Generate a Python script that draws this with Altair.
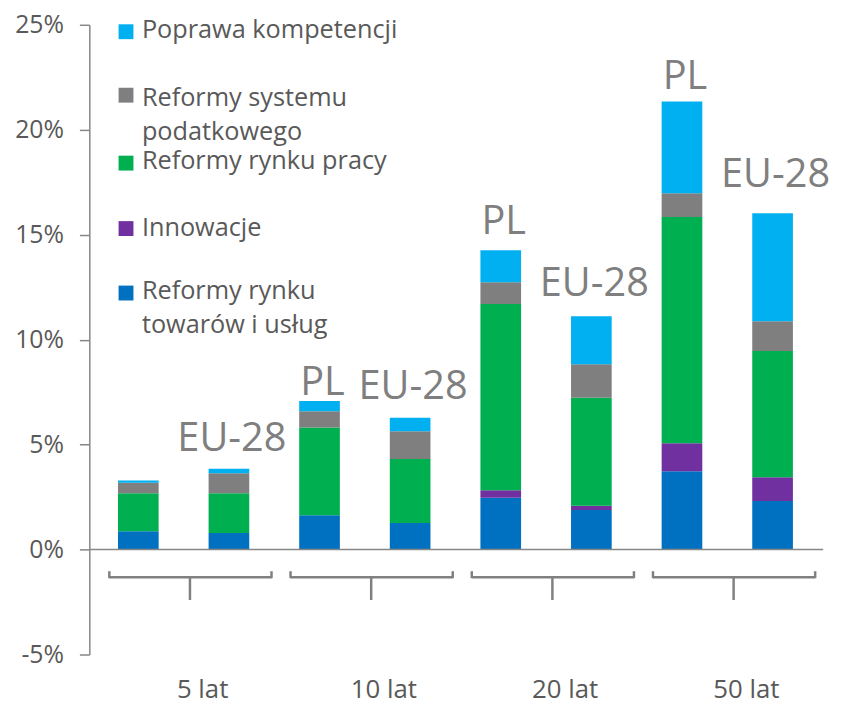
import altair as alt
import pandas as pd

# ---------------- data ----------------
bars = ["5 lat PL", "5 lat EU-28", "10 lat PL", "10 lat EU-28",
        "20 lat PL", "20 lat EU-28", "50 lat PL", "50 lat EU-28"]
bar_labels = ["", "EU-28", "PL", "EU-28", "PL", "EU-28", "PL", "EU-28"]
groups = ["5 lat", "10 lat", "20 lat", "50 lat"]

# stack order bottom -> top
series = ["Reformy rynku towarów i usług", "Innowacje", "Reformy rynku pracy",
          "Reformy systemu podatkowego", "Poprawa kompetencji"]
towary = [0.87, 0.79, 1.64, 1.26, 2.47, 1.89, 3.73, 2.31]
innowacje = [0.00, 0.00, 0.00, 0.00, 0.36, 0.20, 1.34, 1.13]
praca = [1.81, 1.89, 4.18, 3.05, 8.87, 5.14, 10.77, 6.02]
podatki = [0.50, 0.96, 0.77, 1.33, 1.04, 1.60, 1.13, 1.42]
kompetencje = [0.11, 0.21, 0.49, 0.64, 1.52, 2.28, 4.37, 5.14]
values = [towary, innowacje, praca, podatki, kompetencje]

legend_names = ["Poprawa kompetencji", "Reformy systemu\npodatkowego",
                "Reformy rynku pracy", "Innowacje", "Reformy rynku\ntowarów i usług"]

# ---------------- styles / layout ----------------
colors = ["#0070C0", "#7030A0", "#00B050", "#7F7F7F", "#00B0F0"]
legend_colors = ["#00B0F0", "#7F7F7F", "#00B050", "#7030A0", "#0070C0"]
FONT = "Open Sans"
TXT = "#595959"
LINE = "#868686"
W, H = 750, 635
Y_MIN, Y_MAX = -5, 25
PX_PER_UNIT = H / (Y_MAX - Y_MIN)
LEG_SQ_Y = [7, 71, 139.5, 205.5, 270.5]
LEG_TX_Y = [13, 82, 145, 213, 277]
LABEL_GAP = [18, 18, 6, 19, 16, 21, 13, 27]   # px between bar top and its label

rows = []
for i, b in enumerate(bars):
    for k, s in enumerate(series):
        rows.append({"pos": i, "bar": b, "series": s, "order": k, "value": values[k][i]})
df = pd.DataFrame(rows)

totals = [sum(v[i] for v in values) for i in range(len(bars))]
tot = pd.DataFrame({
    "pos": list(range(len(bars))),
    "total": totals,
    "label": bar_labels,
    "ly": [t + g / PX_PER_UNIT for t, g in zip(totals, LABEL_GAP)],
})

gdf = pd.DataFrame({"group": groups, "center": [2 * g + 0.5 for g in range(len(groups))]})
gdf["start"] = gdf["center"] - 0.82
gdf["end"] = gdf["center"] + 0.97
gdf["tick"] = gdf["center"] + 0.07
gdf["lx"] = gdf["center"] + 0.21

xscale = alt.Scale(domain=[-0.486, 7.613], nice=False, zero=False)
yscale = alt.Scale(domain=[Y_MIN, Y_MAX], nice=False, zero=False)
yaxis = alt.Axis(values=[-5, 0, 5, 10, 15, 20, 25], labelExpr="datum.value + '%'",
                 grid=False, domainColor=LINE, domainWidth=1.5, tickColor=LINE,
                 tickWidth=1.5, tickSize=10, labelFontSize=25, labelColor=TXT,
                 labelPadding=16, labelFont=FONT, title=None)

bar_chart = alt.Chart(df).mark_bar(size=41).encode(
    x=alt.X("pos:Q", scale=xscale, axis=None),
    y=alt.Y("value:Q", stack="zero", scale=yscale, axis=yaxis),
    color=alt.Color("series:N", scale=alt.Scale(domain=series, range=colors), legend=None),
    order=alt.Order("order:Q", sort="ascending"),
)

zero_line = alt.Chart(pd.DataFrame({"y": [0]})).mark_rule(color=LINE, strokeWidth=1.5).encode(
    y=alt.Y("y:Q", scale=yscale, axis=yaxis), x=alt.value(0), x2=alt.value(740))

labels = alt.Chart(tot).mark_text(baseline="alphabetic", fontSize=40, color="#7F7F7F",
                                  font=FONT, dx=3).encode(
    x=alt.X("pos:Q", scale=xscale, axis=None),
    y=alt.Y("ly:Q", scale=yscale, axis=yaxis),
    text="label:N")

BR = "#808080"
br_h = alt.Chart(gdf).mark_rule(color=BR, strokeWidth=2.5).encode(
    x=alt.X("start:Q", scale=xscale, axis=None), x2="end:Q", y=alt.value(557))
br_l = alt.Chart(gdf).mark_rule(color=BR, strokeWidth=2.5).encode(
    x=alt.X("start:Q", scale=xscale, axis=None), y=alt.value(551), y2=alt.value(558))
br_r = alt.Chart(gdf).mark_rule(color=BR, strokeWidth=2.5).encode(
    x=alt.X("end:Q", scale=xscale, axis=None), y=alt.value(551), y2=alt.value(558))
br_c = alt.Chart(gdf).mark_rule(color=BR, strokeWidth=2.5).encode(
    x=alt.X("tick:Q", scale=xscale, axis=None), y=alt.value(557), y2=alt.value(580))
glabels = alt.Chart(gdf).mark_text(baseline="alphabetic", fontSize=26, color=TXT, font=FONT).encode(
    x=alt.X("lx:Q", scale=xscale, axis=None), y=alt.value(679), text="group:N")

legend_layers = []
for name, col, sy, ty in zip(legend_names, legend_colors, LEG_SQ_Y, LEG_TX_Y):
    d = pd.DataFrame({"t": [name]})
    legend_layers.append(alt.Chart(d).mark_square(size=225, color=col, opacity=1).encode(
        x=alt.value(37), y=alt.value(sy)))
    legend_layers.append(alt.Chart(d).mark_text(align="left", baseline="alphabetic", fontSize=25.5,
                                                color=TXT, font=FONT, lineBreak="\n",
                                                lineHeight=34).encode(
        x=alt.value(53), y=alt.value(ty), text="t:N"))

chart = alt.layer(bar_chart, zero_line, labels, br_h, br_l, br_r, br_c, glabels,
                  *legend_layers).properties(
    width=W, height=H,
    autosize=alt.AutoSizeParams(type="none"),
    padding={"left": 82, "top": 14, "right": 10, "bottom": 49},
).configure(font=FONT).configure_view(stroke=None)

chart.save("out.html", embed_options={"renderer": "svg", "actions": False})
